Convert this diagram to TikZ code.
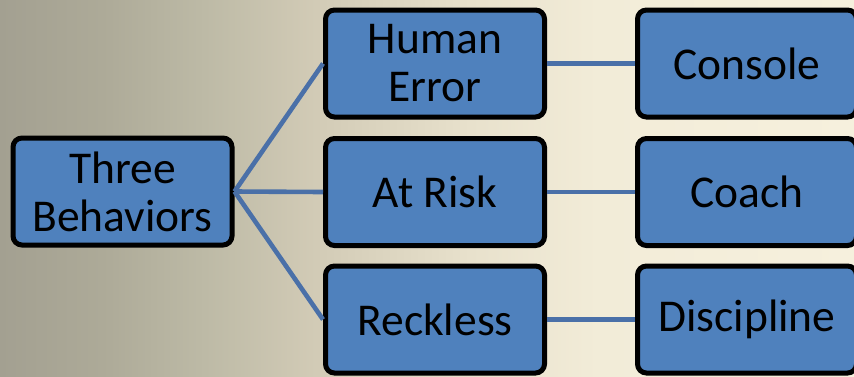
\documentclass[tikz,border=0pt]{standalone}
\usepackage{fontspec}
\setmainfont{Carlito}
\definecolor{boxblue}{HTML}{4F81BD}
\definecolor{lineblue}{HTML}{4A70A8}
\definecolor{bga}{HTML}{A3A091}
\definecolor{bgb}{HTML}{ADAA98}
\definecolor{bgc}{HTML}{BDBAA6}
\definecolor{bgd}{HTML}{D2CBB6}
\definecolor{bge}{HTML}{E8E1CC}
\definecolor{bgf}{HTML}{F2ECD8}
\definecolor{bgg}{HTML}{F6F0DD}
\pgfdeclarehorizontalshading{bgshade}{100bp}{color(0bp)=(bga); color(25bp)=(bga); color(31bp)=(bgb); color(37bp)=(bgc); color(43.5bp)=(bgd); color(52.5bp)=(bge); color(60bp)=(bgf); color(75bp)=(bgg); color(100bp)=(bgg)}
\tikzset{
  boxnode/.style={draw=black, line width=5pt, fill=boxblue, rounded corners=9pt,
    minimum width=219pt, minimum height=107pt, inner sep=0pt, align=center,
    font=\fontsize{45.5}{48}\selectfont, text=black},
  link/.style={draw=lineblue, line width=4.6pt}
}
\begin{document}
\begin{tikzpicture}[x=1pt,y=-1pt]
\useasboundingbox (0,0) rectangle (854,376);
\clip (0,0) rectangle (854,376);
\shade[shading=bgshade] (0,0) rectangle (854,376);
\node[boxnode] (tb) at (122.5,191.5) {Three\\Behaviors};
\node[boxnode] (he) at (435,63.5) {Human\\Error};
\node[boxnode] (ar) at (435,192) {At Risk};
\node[boxnode] (rk) at (435,319.5) {Reckless};
\node[boxnode] (co) at (747,63.5) {Console};
\node[boxnode] (ch) at (747,192) {Coach};
\node[boxnode] (di) at (747,319.5) {Discipline};
\draw[link] (tb.east) -- (he.west);
\draw[link] (tb.east) -- (ar.west);
\draw[link] (tb.east) -- (rk.west);
\draw[link] (he.east) -- (co.west);
\draw[link] (ar.east) -- (ch.west);
\draw[link] (rk.east) -- (di.west);
\end{tikzpicture}
\end{document}
